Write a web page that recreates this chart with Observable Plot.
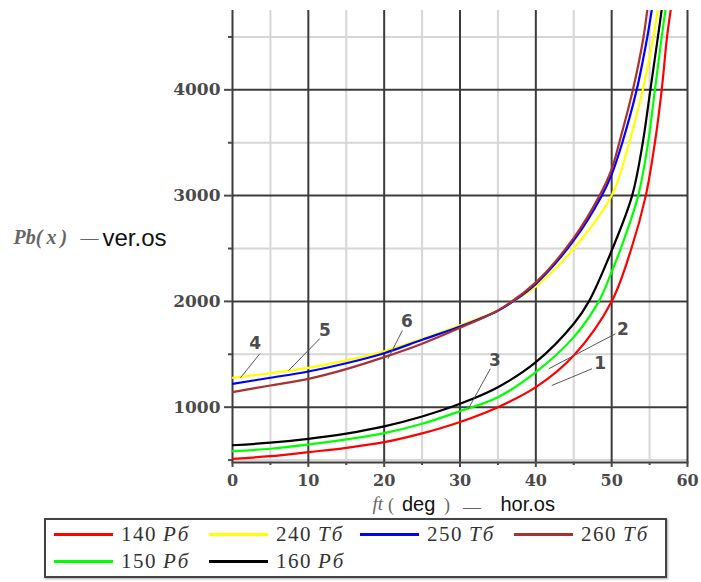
<!DOCTYPE html>
<html><head><meta charset="utf-8">
<script src="https://cdn.jsdelivr.net/npm/d3@7"></script>
<script src="https://cdn.jsdelivr.net/npm/@observablehq/plot@0.6"></script>
<style>
body{margin:0;background:#fff;}
#wrap{position:relative;width:701px;height:582px;background:#fff;}
#legend{position:absolute;left:44px;top:518px;width:611px;height:56px;border:2px solid #444;box-shadow:1px 1px 2px #aaa;display:grid;grid-template-columns:155px 151px 154px 151px;grid-auto-rows:27px;padding-left:8px;align-content:center;font-family:"Liberation Serif",serif;font-size:21px;color:#333;background:#fff;}
.item{display:flex;align-items:center;white-space:nowrap;}
.sw{width:59px;height:3px;margin-right:8px;flex:none;}
.num{letter-spacing:1.5px;}
.unit{font-style:italic;margin-left:6px;letter-spacing:2px;}
</style></head><body><div id="wrap"></div>
<script>
// ---- data (x = ft in deg, y = Pb) ----
const p140 = [[0,512],[5,537],[10,575],[15,615],[20,669],[25,752],[30,860],[35,1000],[40,1189],[45,1489],[50,2000],[52.6,2500],[54.5,3000],[55.7,3500],[56.6,4000],[57.3,4500],[57.8,4760]];
const p150 = [[0,584],[5,607],[10,647],[15,695],[20,754],[25,843],[30,962],[35,1094],[40,1331],[45,1662],[48.3,2000],[50,2280],[51.2,2500],[53.5,3000],[54.8,3500],[55.7,4000],[56.6,4500],[57.1,4760]];
const p160 = [[0,640],[5,664],[10,701],[15,750],[20,818],[25,912],[30,1032],[35,1189],[40,1425],[45,1788],[47,2000],[50,2480],[52.7,3000],[54.1,3500],[55.1,4000],[56.1,4500],[56.6,4760]];
const p240 = [[0,1278],[5,1321],[10,1372],[15,1442],[20,1529],[25,1647],[30,1775],[35,1915],[37,2000],[40,2140],[45,2500],[50,3000],[52.3,3500],[54.1,4000],[55.5,4500],[56.1,4760]];
const p250 = [[0,1221],[5,1278],[10,1337],[15,1415],[20,1510],[25,1637],[30,1762],[35,1912],[37,2000],[40,2166],[45,2576],[48.7,3000],[50,3200],[51.4,3500],[53.3,4000],[54.7,4500],[55.3,4760]];
const p260 = [[0,1142],[5,1205],[10,1268],[15,1360],[20,1473],[25,1600],[30,1750],[35,1915],[40,2180],[45,2600],[48.4,3000],[50,3250],[51.0,3500],[52.8,4000],[54.2,4500],[54.7,4760]];

const seriesNames = ["140", "240", "250", "260", "150", "160"];
const seriesUnits = ["Рб", "Тб", "Тб", "Тб", "Рб", "Рб"];
const seriesData = [p140, p240, p250, p260, p150, p160];
const seriesColors = ["#ff0000", "#ffff00", "#0000ff", "#a83232", "#00ff00", "#000000"];

const xMajor = [0, 10, 20, 30, 40, 50, 60];
const xMinor = [5, 15, 25, 35, 45, 55];
const yMajor = [1000, 2000, 3000, 4000];
const yMinor = [500, 1500, 2500, 3500, 4500];

// curve number annotations (position of number, leader line from -> to)
const annoText = ["4", "5", "6", "3", "2", "1"];
const annoX = [3.0, 12.2, 23.0, 34.6, 51.5, 48.5];
const annoY = [1603, 1725, 1813, 1441, 1731, 1416];
const leadX1 = [3.6, 11.5, 22.4, 34.0, 50.5, 47.4];
const leadY1 = [1505, 1647, 1725, 1363, 1694, 1363];
const leadX2 = [1.05, 7.4, 20.5, 31.1, 41.7, 42.1];
const leadY2 = [1278, 1347, 1457, 985, 1363, 1205];

// ---- chart ----
const anno = annoText.map((t, i) => ({t, x: annoX[i], y: annoY[i], x1: leadX1[i], y1: leadY1[i], x2: leadX2[i], y2: leadY2[i]}));
const dark = "#3c3c3c", light = "#d6d6d6";
const tickFontY = {fontFamily: "DejaVu Serif", fontWeight: "bold", fontSize: 17};
const tickFontX = {fontFamily: "DejaVu Serif", fontWeight: "bold", fontSize: 16};

const lbl = (txt, anchor, dx, dy, font) => Plot.text([txt], Object.assign({text: d => d, frameAnchor: anchor, dx, dy, textAnchor: "start", lineAnchor: "bottom"}, font));
const serifGray = {fontFamily: "Liberation Serif", fill: "#666", fontSize: 18};
const sans = {fontFamily: "Liberation Sans", fill: "#111", fontSize: 20};

const chart = Plot.plot({
  width: 701, height: 518,
  marginLeft: 232, marginRight: 14, marginTop: 10, marginBottom: 56,
  x: {domain: [0, 60]},
  y: {domain: [477, 4750]},
  style: {background: "#fff", overflow: "visible"},
  marks: [
    Plot.ruleX(xMinor, {stroke: light, strokeWidth: 2}),
    Plot.ruleY(yMinor, {stroke: light, strokeWidth: 2}),
    Plot.ruleX(xMajor, {stroke: dark, strokeWidth: 2}),
    Plot.ruleY(yMajor, {stroke: dark, strokeWidth: 2}),
    Plot.frame({anchor: "bottom", stroke: dark, strokeWidth: 2}),
    Plot.axisY({ticks: yMajor, tickSize: 8, tickPadding: 4, label: null, color: "#4a4a4a", strokeWidth: 2, tickFormat: d => String(d), ...tickFontY}),
    Plot.axisY({ticks: yMinor, tickSize: 4, label: null, color: "#4a4a4a", strokeWidth: 2, tickFormat: () => ""}),
    Plot.axisX({ticks: xMajor, tickSize: 5, tickPadding: 7, label: null, color: "#4a4a4a", strokeWidth: 2, tickFormat: d => String(d), ...tickFontX}),
    Plot.axisX({ticks: xMinor, tickSize: 3, label: null, color: "#4a4a4a", strokeWidth: 2, tickFormat: () => ""}),
    ...seriesData.map((pts, i) => Plot.line(pts, {x: d => d[0], y: d => d[1], stroke: seriesColors[i], strokeWidth: 2.2, curve: "catmull-rom", clip: true})),
    Plot.link(anno, {x1: "x1", y1: "y1", x2: "x2", y2: "y2", stroke: "#555", strokeWidth: 1}),
    Plot.text(anno, {x: "x", y: "y", text: "t", fontFamily: "DejaVu Sans", fontWeight: "bold", fontSize: 17, fill: "#4d4d4d"}),
    // y axis title
    lbl("Pb(\u2009x\u2009)", "left", -219, 7, {fontFamily: "Liberation Serif", fontStyle: "italic", fontWeight: "bold", fill: "#666", fontSize: 20}),
    lbl("\u2014", "left", -152, 7, serifGray),
    lbl("ver.os", "left", -130, 9, {fontFamily: "Liberation Sans", fill: "#111", fontSize: 24}),
    // x axis title
    lbl("ft", "bottom", -87.5, 47, {fontFamily: "Liberation Serif", fontStyle: "italic", fill: "#666", fontSize: 19}),
    lbl("(", "bottom", -72, 48, serifGray),
    lbl("deg", "bottom", -58, 48, sans),
    lbl(")", "bottom", -16, 48, serifGray),
    lbl("\u2014", "bottom", 3, 50, serifGray),
    lbl("hor.os", "bottom", 40.5, 48, sans)
  ]
});

const wrap = document.getElementById("wrap");
wrap.appendChild(chart);

// legend
const legend = document.createElement("div");
legend.id = "legend";
seriesNames.forEach((n, i) => {
  const item = document.createElement("div");
  item.className = "item";
  const sw = document.createElement("span");
  sw.className = "sw";
  sw.style.background = seriesColors[i];
  const num = document.createElement("span");
  num.className = "num";
  num.textContent = n;
  const unit = document.createElement("span");
  unit.className = "unit";
  unit.textContent = seriesUnits[i];
  item.append(sw, num, unit);
  legend.appendChild(item);
});
wrap.appendChild(legend);
</script></body></html>
